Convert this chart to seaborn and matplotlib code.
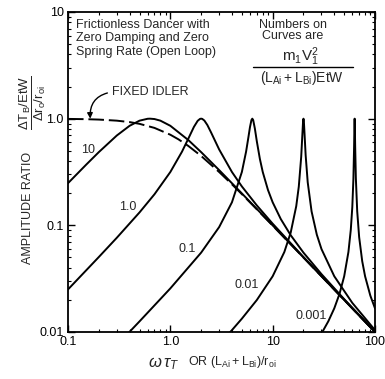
import matplotlib
matplotlib.use("Agg")
import matplotlib.pyplot as plt
import matplotlib.ticker as mticker
from matplotlib.lines import Line2D
import pandas as pd
import seaborn as sns

# ---------------- data ----------------
fixed_x = [0.1, 0.15, 0.2, 0.3, 0.4, 0.5, 0.7, 1.0, 1.2, 1.5, 2, 3, 4, 5, 7, 10, 20, 50, 100]
fixed_y = [0.995, 0.9889, 0.9806, 0.9578, 0.9285, 0.8944, 0.8192, 0.7071, 0.6402, 0.5547,
           0.4472, 0.3162, 0.2425, 0.1961, 0.1414, 0.0995, 0.04994, 0.0200, 0.0100]

c10_x = [0.1, 0.15, 0.2, 0.3, 0.4, 0.5, 0.6, 0.6325, 0.7, 0.8, 1.0, 1.5, 2, 3, 5, 10, 20, 50, 100]
c10_y = [0.2484, 0.3693, 0.4856, 0.6954, 0.8575, 0.9578, 0.9978, 1.0, 0.9918, 0.9578, 0.8575,
         0.6298, 0.4856, 0.3294, 0.1992, 0.0999, 0.04999, 0.0200, 0.0100]

c1_x = [0.1, 0.2, 0.3, 0.5, 0.7, 1.0, 1.3, 1.5, 1.7, 1.85, 1.95, 2.0, 2.05, 2.15, 2.3, 2.5,
        3, 4, 5, 7, 10, 20, 50, 100]
c1_y = [0.02506, 0.05044, 0.0765, 0.1322, 0.1956, 0.3162, 0.4904, 0.6508, 0.8373, 0.9545,
        0.9949, 1.0, 0.9952, 0.9605, 0.8722, 0.7433, 0.5145, 0.3162, 0.2316, 0.1537, 0.1036,
        0.05044, 0.02003, 0.0100]

c01_x = [0.3, 0.5, 1, 2, 3, 4, 5, 5.5, 5.8, 6.0, 6.2, 6.3246, 6.45, 6.7, 7, 7.5, 8, 9, 10,
         12, 15, 20, 30, 50, 100]
c01_y = [0.007517, 0.012578, 0.02563, 0.05547, 0.09632, 0.1644, 0.3162, 0.4913, 0.6738,
         0.8321, 0.9698, 1.0, 0.9705, 0.8077, 0.6139, 0.4191, 0.3162, 0.2144, 0.1644, 0.1146,
         0.08082, 0.05547, 0.03486, 0.02032, 0.01004]

c001_x = [3, 4, 5, 7, 10, 13, 15, 17, 18, 19, 19.5, 19.8, 20, 20.2, 20.5, 21, 22, 24, 27,
          30, 40, 60, 100]
c001_y = [0.007672, 0.010416, 0.013332, 0.019939, 0.03331, 0.05619, 0.0854, 0.1514, 0.2305,
          0.4380, 0.7026, 0.9278, 1.0, 0.9291, 0.7114, 0.4559, 0.2534, 0.1351, 0.08179,
          0.05989, 0.03331, 0.018747, 0.010416]

c0001_x = [30, 35, 40, 45, 50, 55, 58, 60, 61.5, 62.5, 63, 63.246, 63.5, 64, 65, 67, 70,
           75, 80, 90, 100]
c0001_y = [0.009677, 0.012612, 0.016664, 0.02278, 0.03331, 0.05632, 0.09082, 0.1483,
           0.2718, 0.5547, 0.8973, 1.0, 0.8916, 0.5547, 0.2775, 0.1357, 0.07754, 0.04611,
           0.03331, 0.021946, 0.016664]

curve_names = ["10", "1.0", "0.1", "0.01", "0.001"]
x_ticks = [0.1, 1, 10, 100]
x_tick_labels = ["0.1", "1.0", "10", "100"]
y_ticks = [0.01, 0.1, 1, 10]
y_tick_labels = ["0.01", "0.1", "1.0", "10"]

# ---------------- styling ----------------
sns.set_style("ticks")
plt.rcParams["font.family"] = ["Liberation Sans", "DejaVu Sans"]
plt.rcParams["mathtext.fontset"] = "custom"
plt.rcParams["mathtext.rm"] = "Liberation Sans"
plt.rcParams["mathtext.it"] = "Liberation Sans:italic"
plt.rcParams["mathtext.bf"] = "Liberation Sans:bold"

W, H = 385, 379
fig = plt.figure(figsize=(W / 100, H / 100), dpi=100)
L, R, T, B = 68, 375, 12, 332
ax = fig.add_axes([L / W, 1 - B / H, (R - L) / W, (B - T) / H])

frames = []
for name, xs, ys in zip(curve_names,
                        [c10_x, c1_x, c01_x, c001_x, c0001_x],
                        [c10_y, c1_y, c01_y, c001_y, c0001_y]):
    frames.append(pd.DataFrame({"x": xs, "y": ys, "curve": name}))
df = pd.concat(frames, ignore_index=True)
df_fixed = pd.DataFrame({"x": fixed_x, "y": fixed_y})

sns.lineplot(data=df, x="x", y="y", units="curve", estimator=None, sort=False,
             color="black", linewidth=1.4, ax=ax, legend=False)
sns.lineplot(data=df_fixed, x="x", y="y", estimator=None, sort=False,
             color="black", linewidth=1.4, ax=ax, legend=False)
ax.lines[-1].set_dashes([8, 2.5])

ax.set_xscale("log")
ax.set_yscale("log")
ax.set_xlim(0.1, 100)
ax.set_ylim(0.01, 10)
ax.xaxis.set_major_locator(mticker.FixedLocator(x_ticks))
ax.xaxis.set_major_formatter(mticker.FixedFormatter(x_tick_labels))
ax.yaxis.set_major_locator(mticker.FixedLocator(y_ticks))
ax.yaxis.set_major_formatter(mticker.FixedFormatter(y_tick_labels))
ax.xaxis.set_minor_locator(mticker.LogLocator(base=10, subs=range(2, 10)))
ax.yaxis.set_minor_locator(mticker.LogLocator(base=10, subs=range(2, 10)))
ax.xaxis.set_minor_formatter(mticker.NullFormatter())
ax.yaxis.set_minor_formatter(mticker.NullFormatter())
ax.tick_params(which="both", direction="in", top=True, right=True, colors="black",
               labelsize=9, pad=3)
ax.tick_params(which="major", length=5, width=1.0)
ax.tick_params(which="minor", length=2.5, width=0.8)
for s in ax.spines.values():
    s.set_linewidth(1.3)
    s.set_color("black")
ax.set_xlabel("")
ax.set_ylabel("")

def fx(px):
    return px / W

def fy(py):
    return 1 - py / H

# curve labels (pixel positions converted to figure fraction)
lab_pos = [(88, 150), (128, 207), (187, 249), (247, 285), (311, 316)]
for name, (px, py) in zip(curve_names, lab_pos):
    fig.text(fx(px), fy(py), name, ha="center", va="center", fontsize=9)

# top-left note
fig.text(fx(76), fy(18.5), "Frictionless Dancer with\nZero Damping and Zero\nSpring Rate (Open Loop)",
         ha="left", va="top", fontsize=9, linespacing=1.2)

# top-right note
fig.text(fx(293), fy(18.5), "Numbers on\nCurves are", ha="center", va="top",
         fontsize=9, linespacing=0.95)
fig.text(fx(300), fy(57), r"$\mathregular{m_1V_1^2}$", ha="center", va="center", fontsize=11)
fig.add_artist(Line2D([fx(253), fx(353)], [fy(67), fy(67)], color="black", linewidth=1.0,
                      transform=fig.transFigure))
fig.text(fx(302), fy(78), r"$\mathregular{(L_{Ai} + L_{Bi})EtW}$", ha="center", va="center",
         fontsize=10)

# fixed idler annotation
ax.annotate("FIXED IDLER", xy=(0.165, 1.0), xycoords="data",
            xytext=(fx(112), fy(92)), textcoords="figure fraction",
            ha="left", va="center", fontsize=9,
            arrowprops=dict(arrowstyle="-|>", color="black", lw=1.0,
                            connectionstyle="arc3,rad=0.45", relpos=(0, 0.5),
                            shrinkA=1, shrinkB=0, mutation_scale=8))

# y label pieces
fig.text(fx(28), fy(208), "AMPLITUDE RATIO", rotation=90, ha="center", va="center", fontsize=9)
fig.text(fx(33), fy(103), r"$\mathregular{\dfrac{\Delta T_B/EtW}{\Delta r_o/r_{oi}}}$", rotation=90,
         ha="center", va="center", fontsize=9.5)

# x label pieces
fig.text(fx(164), fy(364), r"$\omega\,\tau_T$", ha="center", va="center", fontsize=12)
fig.text(fx(188), fy(362), r"OR $\mathregular{(L_{Ai} + L_{Bi})/r_{oi}}$", ha="left", va="center",
         fontsize=9)

fig.savefig("out.png", dpi=100)
